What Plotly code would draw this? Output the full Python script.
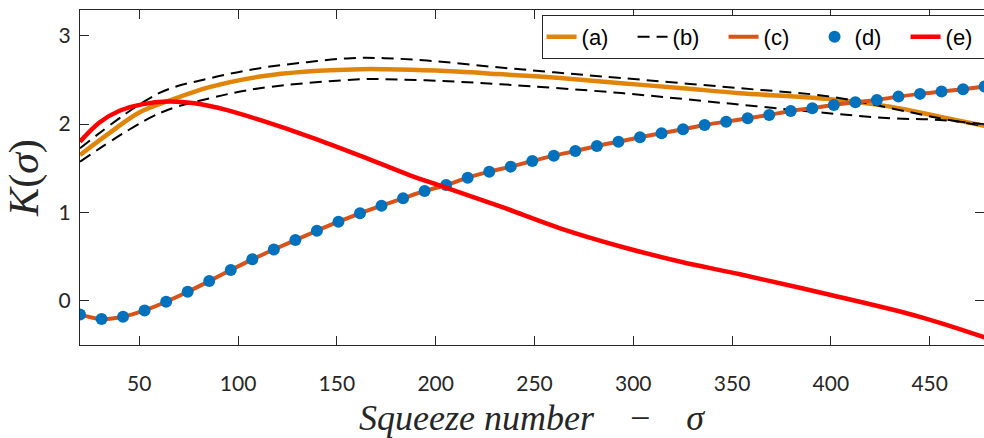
import plotly.graph_objects as go

# ---- data ----
a_x = [20, 35, 50, 64, 86, 111, 135, 162, 174, 200, 232, 263, 294, 325, 354, 400, 430, 455, 480]
a_y = [1.65, 1.90, 2.13, 2.255, 2.42, 2.537, 2.595, 2.62, 2.62, 2.605, 2.565, 2.52, 2.462, 2.405, 2.349, 2.281, 2.197, 2.084, 1.97]

b_up_x = [20, 60, 86, 111, 135, 157, 174, 200, 230, 260, 294, 354, 400, 430, 455, 480]
b_up_y = [1.726, 2.349, 2.519, 2.632, 2.70, 2.745, 2.745, 2.71, 2.645, 2.585, 2.52, 2.405, 2.31, 2.18, 2.066, 1.97]

b_lo_x = [20, 60, 86, 111, 162, 174, 200, 233, 294, 350, 400, 430, 455, 480]
b_lo_y = [1.574, 2.12, 2.292, 2.405, 2.507, 2.507, 2.49, 2.45, 2.35, 2.228, 2.12, 2.066, 2.046, 1.99]

d_x = [20, 30.9, 41.8, 52.7, 63.6, 74.5, 85.4, 96.3, 107.2, 118.1, 129, 139.9, 150.8, 161.7,
       172.6, 183.5, 194.4, 205.3, 216.2, 227.1, 238, 248.9, 259.8, 270.7, 281.6, 292.5, 303.4,
       314.3, 325.2, 336.1, 347, 357.9, 368.8, 379.7, 390.6, 401.5, 412.4, 423.3, 434.2, 445.1,
       456, 466.9, 477.8]
d_y = [-0.154, -0.207, -0.18, -0.109, -0.011, 0.102, 0.223, 0.348, 0.469, 0.58, 0.687, 0.793,
       0.895, 0.99, 1.076, 1.16, 1.242, 1.31, 1.393, 1.461, 1.518, 1.582, 1.642, 1.695, 1.752,
       1.80, 1.85, 1.896, 1.941, 1.99, 2.027, 2.066, 2.103, 2.148, 2.179, 2.216, 2.247, 2.273,
       2.31, 2.341, 2.367, 2.394, 2.424]

c_x = d_x + [480]
c_y = d_y + [2.43]

e_x = [20, 30, 40, 52, 64, 78, 94, 111, 137, 162, 187, 204, 233, 263, 294, 324, 354, 400, 445, 480]
e_y = [1.80, 2.02, 2.15, 2.225, 2.254, 2.235, 2.16, 2.046, 1.85, 1.64, 1.42, 1.29, 1.065, 0.82, 0.612, 0.442, 0.30, 0.065, -0.181, -0.43]

x_ticks = [50, 100, 150, 200, 250, 300, 350, 400, 450]
y_ticks = [0, 1, 2, 3]
labels = ["(a)", "(b)", "(c)", "(d)", "(e)"]
x_title = "<i>Squeeze number</i>    −    <i>σ</i>"
y_title = "<i>K</i>(<i>σ</i>)"

C_A = "#E0850A"
C_C = "#D95319"
C_D = "#0072BD"
C_E = "#FF0000"
AX = "#262626"

fig = go.Figure()
fig.add_trace(go.Scatter(x=a_x, y=a_y, mode="lines", name=labels[0],
                         line=dict(color=C_A, width=4.5, shape="spline")))
fig.add_trace(go.Scatter(x=b_up_x, y=b_up_y, mode="lines", name=labels[1], legendgroup="b",
                         line=dict(color="black", width=2, dash="12px,7px", shape="spline")))
fig.add_trace(go.Scatter(x=b_lo_x, y=b_lo_y, mode="lines", name=labels[1], legendgroup="b",
                         showlegend=False,
                         line=dict(color="black", width=2, dash="12px,7px", shape="spline")))
fig.add_trace(go.Scatter(x=c_x, y=c_y, mode="lines", name=labels[2],
                         line=dict(color=C_C, width=4, shape="spline")))
fig.add_trace(go.Scatter(x=d_x, y=d_y, mode="markers", name=labels[3],
                         marker=dict(color=C_D, size=12)))
fig.add_trace(go.Scatter(x=e_x, y=e_y, mode="lines", name=labels[4],
                         line=dict(color=C_E, width=4.5, shape="spline")))

axis_common = dict(showgrid=False, zeroline=False, showline=True, linecolor=AX, linewidth=1,
                   mirror="ticks", ticks="inside", ticklen=9, tickcolor=AX,
                   tickfont=dict(family="Lato", size=21, color=AX))

fig.update_xaxes(range=[20, 477.5], tickvals=x_ticks, ticklabelstandoff=20, **axis_common)
fig.update_yaxes(range=[-0.5, 3.29], tickvals=y_ticks, ticklabelstandoff=4,
                 title=dict(text=y_title,
                            font=dict(family="Liberation Serif", size=42, color=AX), standoff=6),
                 **axis_common)

fig.add_annotation(text=x_title, xref="paper", yref="paper", x=0.5, y=-0.217,
                   xanchor="center", yanchor="middle", showarrow=False,
                   font=dict(family="Liberation Serif", size=36, color=AX))

fig.update_layout(
    width=984, height=438,
    margin=dict(l=80, r=0, t=10, b=93, autoexpand=False),
    plot_bgcolor="white", paper_bgcolor="white",
    showlegend=True,
    legend=dict(orientation="h", x=1.015, xanchor="right", y=0.985, yanchor="top",
                bordercolor=AX, borderwidth=1, bgcolor="white",
                font=dict(family="Liberation Sans", size=22, color="black"),
                entrywidth=46, entrywidthmode="pixels", tracegroupgap=0),
)

fig.write_html("out.html")
